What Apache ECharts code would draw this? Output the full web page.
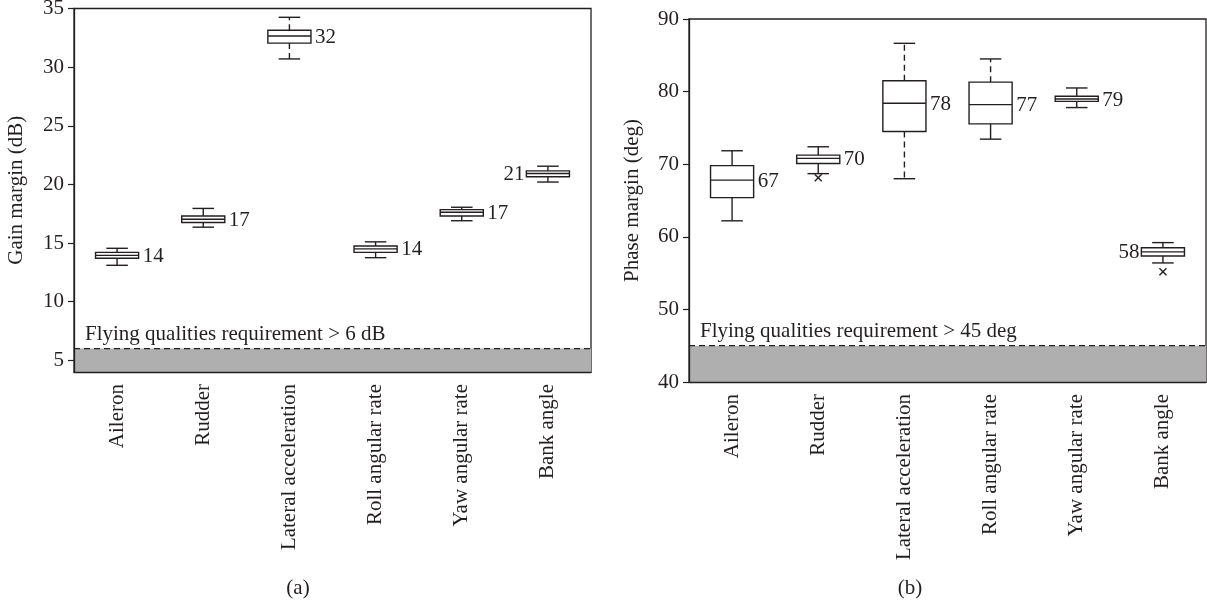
<!DOCTYPE html>
<html>
<head>
<meta charset="utf-8">
<script src="https://cdn.jsdelivr.net/npm/echarts@6/dist/echarts.min.js"></script>
<style>
  html, body { margin: 0; padding: 0; background: #fff; }
  #chart { width: 1207px; height: 603px; }
</style>
</head>
<body>
<div id="chart"></div>
<script>
// Loop channels
const categories = ['Aileron', 'Rudder', 'Lateral acceleration', 'Roll angular rate', 'Yaw angular rate', 'Bank angle'];

// Gain margin (dB): [lower whisker, Q1, median, Q3, upper whisker]
const gainBoxes = [
  [13.1, 13.7, 13.95, 14.2, 14.55],
  [16.35, 16.75, 17.03, 17.3, 17.95],
  [30.7, 32.05, 32.65, 33.15, 34.25],
  [13.75, 14.2, 14.5, 14.75, 15.1],
  [16.9, 17.3, 17.63, 17.85, 18.05],
  [20.2, 20.65, 20.93, 21.15, 21.55]
];
const gainLabels = [14, 17, 32, 14, 17, 21];
const gainOutliers = [];
const gainRequirement = 6;
const gainTicks = [5, 10, 15, 20, 25, 30, 35];

// Phase margin (deg)
const phaseBoxes = [
  [62.2, 65.4, 67.8, 69.8, 71.85],
  [68.7, 70.1, 70.8, 71.25, 72.4],
  [68.0, 74.5, 78.4, 81.5, 86.65],
  [73.45, 75.55, 78.2, 81.3, 84.5],
  [77.8, 78.65, 78.98, 79.35, 80.5],
  [56.4, 57.35, 57.93, 58.5, 59.2]
];
const phaseLabels = [67, 70, 78, 77, 79, 58];
// [category index, value]
const phaseOutliers = [[1, 68.15], [5, 55.2]];
const phaseRequirement = 45;
const phaseTicks = [40, 50, 60, 70, 80, 90];

// drawing style
const INK = '#231f20';
const FONT = '"Liberation Serif", "DejaVu Serif", serif';
const FS = 21;
const dashedWhiskers = { 'Lateral acceleration': ['upper', 'lower'], 'Roll angular rate': ['upper'] };
const labelOnLeft = ['Bank angle'];

function boxRenderer(labels) {
  return function (params, api) {
    const idx = api.value(0);
    const lo = api.value(1), q1 = api.value(2), med = api.value(3), q3 = api.value(4), hi = api.value(5);
    const band = api.size([1, 0])[0];
    const boxW = band * 0.5, capW = band * 0.25;
    const cx = api.coord([idx, med])[0];
    const yLo = api.coord([idx, lo])[1];
    const yQ1 = api.coord([idx, q1])[1];
    const yMed = api.coord([idx, med])[1];
    const yQ3 = api.coord([idx, q3])[1];
    const yHi = api.coord([idx, hi])[1];
    const dashes = dashedWhiskers[categories[idx]] || [];
    const solid = { stroke: INK, lineWidth: 1.4, fill: null };
    const dash = { stroke: INK, lineWidth: 1.4, fill: null, lineDash: [6, 4] };
    const left = labelOnLeft.indexOf(categories[idx]) >= 0;
    return {
      type: 'group',
      children: [
        { type: 'line', shape: { x1: cx, y1: yQ3, x2: cx, y2: yHi }, style: dashes.indexOf('upper') >= 0 ? dash : solid },
        { type: 'line', shape: { x1: cx, y1: yQ1, x2: cx, y2: yLo }, style: dashes.indexOf('lower') >= 0 ? dash : solid },
        { type: 'line', shape: { x1: cx - capW / 2, y1: yHi, x2: cx + capW / 2, y2: yHi }, style: solid },
        { type: 'line', shape: { x1: cx - capW / 2, y1: yLo, x2: cx + capW / 2, y2: yLo }, style: solid },
        { type: 'rect', shape: { x: cx - boxW / 2, y: yQ3, width: boxW, height: yQ1 - yQ3 }, style: { stroke: INK, lineWidth: 1.4, fill: '#fff' } },
        { type: 'line', shape: { x1: cx - boxW / 2, y1: yMed, x2: cx + boxW / 2, y2: yMed }, style: solid },
        {
          type: 'text',
          style: {
            text: String(labels[idx]),
            x: left ? cx - boxW / 2 - 2 : cx + boxW / 2 + 4,
            y: yMed + 1,
            align: left ? 'right' : 'left',
            verticalAlign: 'middle',
            font: FS + 'px ' + FONT,
            fill: INK
          }
        }
      ]
    };
  };
}

function outlierRenderer(params, api) {
  const p = api.coord([api.value(0), api.value(1)]);
  const s = 3.5;
  const st = { stroke: INK, lineWidth: 1.4 };
  return {
    type: 'group',
    children: [
      { type: 'line', shape: { x1: p[0] - s, y1: p[1] - s, x2: p[0] + s, y2: p[1] + s }, style: st },
      { type: 'line', shape: { x1: p[0] - s, y1: p[1] + s, x2: p[0] + s, y2: p[1] - s }, style: st }
    ]
  };
}

// shaded region below the requirement, dashed limit line and its caption
function bandRenderer(caption) {
  return function (params, api) {
    const cs = params.coordSys;
    const yTop = api.coord([0, api.value(1)])[1];
    const yBot = api.coord([0, api.value(0)])[1];
    return {
      type: 'group',
      children: [
        { type: 'rect', shape: { x: cs.x, y: yTop, width: cs.width, height: yBot - yTop }, style: { fill: '#afafaf' } },
        { type: 'line', shape: { x1: cs.x, y1: yTop, x2: cs.x + cs.width, y2: yTop }, style: { stroke: INK, lineWidth: 1.2, lineDash: [6, 4] } },
        { type: 'text', style: { text: caption, x: cs.x + 11, y: yTop - 4, align: 'left', verticalAlign: 'bottom', font: FS + 'px ' + FONT, fill: INK } }
      ]
    };
  };
}

const gridBase = { show: true, borderColor: INK, borderWidth: 1.3, backgroundColor: 'transparent', containLabel: false, outerBoundsMode: 'none' };

function xAxisFor(gridIndex) {
  return {
    type: 'category', gridIndex, data: categories, boundaryGap: true, z: 5,
    axisLine: { lineStyle: { color: INK, width: 1.3 } },
    axisTick: { alignWithLabel: true, length: 5, lineStyle: { color: INK, width: 1.2 } },
    axisLabel: { rotate: 90, margin: 12, color: INK, fontFamily: FONT, fontSize: FS, interval: 0 },
    splitLine: { show: false }
  };
}

function yAxisFor(gridIndex, min, max, ticks, name, nameGap) {
  return {
    type: 'value', gridIndex, min, max, z: 5,
    name, nameLocation: 'middle', nameGap,
    nameTextStyle: { color: INK, fontFamily: FONT, fontSize: FS },
    axisLine: { show: true, lineStyle: { color: INK, width: 1.3 } },
    axisTick: { show: true, length: 6, customValues: ticks, lineStyle: { color: INK, width: 1.2 } },
    axisLabel: { margin: 10, customValues: ticks, color: INK, fontFamily: FONT, fontSize: FS },
    splitLine: { show: false }
  };
}

const toRows = boxes => boxes.map((b, i) => [i].concat(b));

const option = {
  backgroundColor: '#fff',
  animation: false,
  grid: [
    Object.assign({ left: 74, top: 8.5, width: 517, height: 363.5 }, gridBase),
    Object.assign({ left: 689, top: 19, width: 517, height: 363 }, gridBase)
  ],
  xAxis: [xAxisFor(0), xAxisFor(1)],
  yAxis: [
    yAxisFor(0, 4, 35, gainTicks, 'Gain margin (dB)', 47),
    yAxisFor(1, 40, 90, phaseTicks, 'Phase margin (deg)', 46)
  ],
  graphic: [
    { type: 'text', x: 298, y: 588, style: { text: '(a)', font: FS + 'px ' + FONT, fill: INK, align: 'center', verticalAlign: 'middle' } },
    { type: 'text', x: 910, y: 588, style: { text: '(b)', font: FS + 'px ' + FONT, fill: INK, align: 'center', verticalAlign: 'middle' } }
  ],
  series: [
    { type: 'custom', xAxisIndex: 0, yAxisIndex: 0, z: 1, renderItem: bandRenderer('Flying qualities requirement > ' + gainRequirement + ' dB'), data: [[4, gainRequirement]], encode: { y: [0, 1] }, silent: true },
    { type: 'custom', xAxisIndex: 0, yAxisIndex: 0, renderItem: boxRenderer(gainLabels), data: toRows(gainBoxes), encode: { x: 0, y: [1, 2, 3, 4, 5] } },
    { type: 'custom', xAxisIndex: 0, yAxisIndex: 0, renderItem: outlierRenderer, data: gainOutliers, encode: { x: 0, y: 1 } },
    { type: 'custom', xAxisIndex: 1, yAxisIndex: 1, z: 1, renderItem: bandRenderer('Flying qualities requirement > ' + phaseRequirement + ' deg'), data: [[40, phaseRequirement]], encode: { y: [0, 1] }, silent: true },
    { type: 'custom', xAxisIndex: 1, yAxisIndex: 1, renderItem: boxRenderer(phaseLabels), data: toRows(phaseBoxes), encode: { x: 0, y: [1, 2, 3, 4, 5] } },
    { type: 'custom', xAxisIndex: 1, yAxisIndex: 1, renderItem: outlierRenderer, data: phaseOutliers, encode: { x: 0, y: 1 } }
  ]
};

const chart = echarts.init(document.getElementById('chart'), null, { renderer: 'canvas' });
chart.setOption(option);
</script>
</body>
</html>
